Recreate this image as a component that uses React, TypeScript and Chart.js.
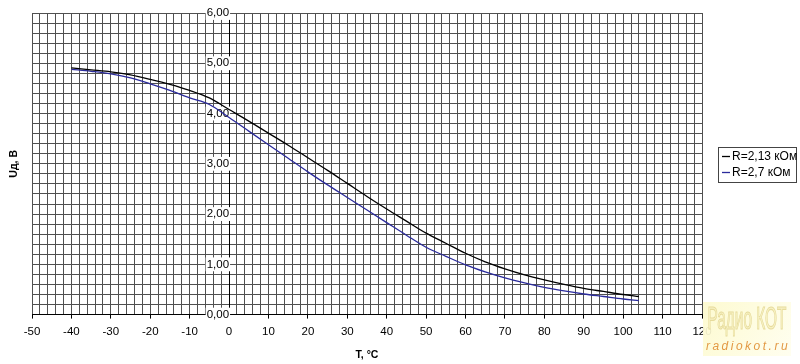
import React, { useEffect, useRef } from 'react';
import { Chart, registerables } from 'chart.js';

Chart.register(...registerables);

// ---- data ----
const temperatures = [-40, -35, -30, -25, -20, -15, -10, -5, 0, 5, 10, 15, 20, 25, 30, 35, 40, 45, 50, 55, 60, 65, 70, 75, 80, 85, 90, 95, 100, 104];
const seriesR213 = [4.91, 4.87, 4.83, 4.77, 4.68, 4.58, 4.46, 4.31, 4.08, 3.85, 3.61, 3.37, 3.12, 2.87, 2.61, 2.35, 2.10, 1.86, 1.62, 1.42, 1.22, 1.05, 0.91, 0.79, 0.69, 0.60, 0.52, 0.46, 0.40, 0.36];
const seriesR27 = [4.88, 4.84, 4.79, 4.71, 4.59, 4.46, 4.31, 4.18, 3.92, 3.65, 3.38, 3.11, 2.84, 2.58, 2.33, 2.08, 1.83, 1.58, 1.34, 1.16, 0.99, 0.85, 0.73, 0.63, 0.54, 0.47, 0.41, 0.36, 0.31, 0.28];
const seriesLabels = ['R=2,13 кОм', 'R=2,7 кОм'];
const seriesColors = ['#000000', '#2b2b9c'];
const xTitle = 'T, °C';
const yTitle = 'Uд, В';
const xMin = -50;
const xMax = 120;
const yMin = 0;
const yMax = 6;
const watermarkTitle = 'Радио КОТ';
const watermarkUrl = 'radiokot.ru';

const FONT = 'Arial, "Liberation Sans", sans-serif';

const isInt = (v: number) => Math.abs(v - Math.round(v)) < 1e-6;
const isTen = (v: number) => Math.abs(v / 10 - Math.round(v / 10)) < 1e-6;

const extrasPlugin = {
  id: 'extras',
  afterDraw(chart: any) {
    const ctx = chart.ctx as CanvasRenderingContext2D;
    const area = chart.chartArea;
    // y-axis title
    ctx.save();
    ctx.translate(14, (area.top + area.bottom) / 2);
    ctx.rotate(-Math.PI / 2);
    ctx.font = `bold 10.5px ${FONT}`;
    ctx.fillStyle = '#000';
    ctx.textAlign = 'center';
    ctx.textBaseline = 'middle';
    ctx.fillText(yTitle, 0, 0);
    ctx.restore();

    // legend
    const lx = 718, ly = 147, lw = 78, lh = 35;
    ctx.save();
    ctx.fillStyle = '#fff';
    ctx.fillRect(lx, ly, lw, lh);
    ctx.strokeStyle = '#444';
    ctx.lineWidth = 1;
    ctx.strokeRect(lx + 0.5, ly + 0.5, lw, lh);
    ctx.font = `12px ${FONT}`;
    ctx.textBaseline = 'middle';
    chart.data.datasets.forEach((ds: any, i: number) => {
      const y = ly + 9 + i * 16;
      ctx.strokeStyle = ds.borderColor;
      ctx.lineWidth = 1.3;
      ctx.beginPath();
      ctx.moveTo(lx + 4, y + 0.5);
      ctx.lineTo(lx + 12, y + 0.5);
      ctx.stroke();
      ctx.fillStyle = '#000';
      ctx.fillText(ds.label, lx + 14, y + 1);
    });
    ctx.restore();

    // watermark
    ctx.save();
    const wx = 703, wy = 302, ww = 88, wh = 54;
    const g = ctx.createLinearGradient(wx, wy, wx + ww, wy + wh);
    g.addColorStop(0, 'rgba(253,250,205,0.92)');
    g.addColorStop(1, 'rgba(255,254,238,0.92)');
    ctx.fillStyle = g;
    ctx.fillRect(wx, wy, ww, wh);
    ctx.save();
    ctx.translate(wx + ww / 2, wy + 19);
    ctx.scale(0.55, 1.1);
    ctx.font = `28px ${FONT}`;
    ctx.textAlign = 'center';
    ctx.textBaseline = 'middle';
    ctx.fillStyle = 'rgba(248,242,196,0.95)';
    ctx.fillText(watermarkTitle, 0, 0);
    ctx.strokeStyle = 'rgba(228,216,150,0.9)';
    ctx.lineWidth = 1;
    ctx.strokeText(watermarkTitle, 0, 0);
    ctx.restore();
    ctx.font = `italic 12px ${FONT}`;
    (ctx as any).letterSpacing = '2.5px';
    ctx.textAlign = 'center';
    ctx.textBaseline = 'middle';
    ctx.fillStyle = '#e39a45';
    ctx.fillText(watermarkUrl, wx + ww / 2 + 1, wy + 45);
    ctx.restore();
  },
};

export default function App() {
  const canvasRef = useRef<HTMLCanvasElement | null>(null);

  useEffect(() => {
    const canvas = canvasRef.current;
    if (!canvas) return;
    const chart = new Chart(canvas, {
      type: 'line',
      data: {
        datasets: [
          {
            label: seriesLabels[0],
            data: temperatures.map((t, i) => ({ x: t, y: seriesR213[i] })),
            borderColor: seriesColors[0],
            backgroundColor: seriesColors[0],
            borderWidth: 1.3,
            pointRadius: 0,
            cubicInterpolationMode: 'monotone',
          },
          {
            label: seriesLabels[1],
            data: temperatures.map((t, i) => ({ x: t, y: seriesR27[i] })),
            borderColor: seriesColors[1],
            backgroundColor: seriesColors[1],
            borderWidth: 1.3,
            pointRadius: 0,
            cubicInterpolationMode: 'monotone',
          },
        ],
      },
      options: {
        animation: false,
        responsive: false,
        maintainAspectRatio: false,
        layout: { padding: { left: 32, right: 98, top: 13, bottom: 2.5 } },
        plugins: {
          legend: { display: false },
          tooltip: { enabled: false },
        },
        scales: {
          x: {
            type: 'linear',
            min: xMin,
            max: xMax,
            border: { display: true, color: '#000', width: 1 },
            grid: {
              color: '#505050',
              lineWidth: 1,
              drawTicks: true,
              tickLength: 4,
              tickColor: (c: any) => (c.tick && isTen(c.tick.value) ? '#000' : 'rgba(0,0,0,0)'),
            },
            ticks: {
              stepSize: 2,
              autoSkip: false,
              maxRotation: 0,
              padding: 6,
              color: '#000',
              font: { family: FONT, size: 11.5 },
              callback: (v: any) => (isTen(Number(v)) ? String(Math.round(Number(v))) : ''),
            },
            title: {
              display: true,
              text: xTitle,
              color: '#000',
              font: { family: FONT, size: 10.5, weight: 'bold' },
              padding: { top: 4.5, bottom: 0 },
            },
          },
          y: {
            type: 'linear',
            position: { x: 0 } as any,
            min: yMin,
            max: yMax,
            border: { display: true, color: '#000', width: 1 },
            grid: {
              color: '#505050',
              lineWidth: 1,
              drawTicks: true,
              tickLength: 6,
              tickColor: (c: any) => (c.tick && isInt(c.tick.value) ? '#000' : 'rgba(0,0,0,0)'),
            },
            ticks: {
              stepSize: 0.2,
              autoSkip: false,
              padding: 2,
              color: '#000',
              showLabelBackdrop: (c: any) => !!(c.tick && isInt(c.tick.value)),
              backdropColor: '#fff',
              backdropPadding: { top: 0, bottom: 0, left: 1, right: 1 },
              font: { family: FONT, size: 11.5 },
              callback: (v: any) => (isInt(Number(v)) ? Number(v).toFixed(2).replace('.', ',') : ''),
            },
          },
        },
      } as any,
      plugins: [extrasPlugin],
    });
    return () => chart.destroy();
  }, []);

  return (
    <div style={{ position: 'absolute', left: 0, top: 0, width: 800, height: 364, background: '#fff' }}>
      <canvas ref={canvasRef} width={800} height={364} style={{ display: 'block', width: 800, height: 364 }} />
    </div>
  );
}
